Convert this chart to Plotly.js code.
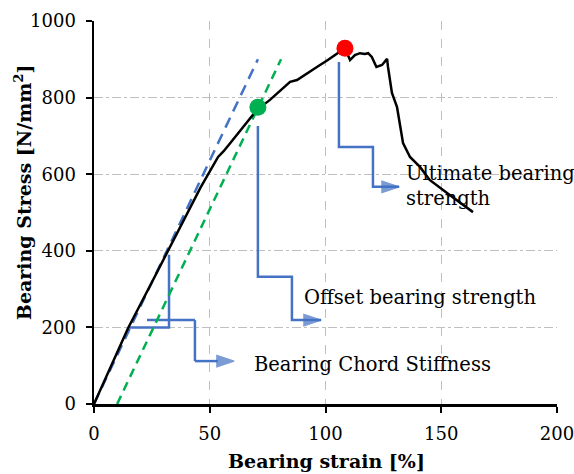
<!DOCTYPE html>
<html><head><meta charset="utf-8">
<script src="https://cdn.plot.ly/plotly-3.0.1.min.js"></script>
<style>html,body{margin:0;padding:0;background:#fff}#chart{width:574px;height:474px}</style>
</head><body><div id="chart"></div>
<script>
// Measured bearing curve
const strain = [0, 14.7, 25, 38.9, 46, 53.6, 56, 58.8, 65, 70.4, 76, 80, 84.7, 87.7, 92, 96.3, 101, 105.4, 108.4, 110.6, 112.7, 114.9, 117, 118.4, 120, 122, 124.4, 126.6, 127, 128.7, 130.9, 133.5, 136.5, 140.8, 145, 152.5, 158, 163.7];
const stress = [0, 198, 318, 480, 565, 645, 660, 681, 727, 768, 794, 815, 841, 846, 862, 880, 898, 916, 929, 898, 911, 916, 914, 916, 906, 880, 885, 901, 880, 812, 775, 681, 645, 619, 585, 551, 527, 501];
// Chord stiffness line and 10% offset line
const chordX = [0, 70.8];
const chordY = [0, 900];
const offsetX = [10, 80.8];
const offsetY = [0, 900];
// Key points
const offsetPtX = [70.8];
const offsetPtY = [775];
const ultimatePtX = [108.4];
const ultimatePtY = [929];
// Chord-stiffness triangle
const triX = [14.7, 32.4, 32.4];
const triY = [200, 200, 390];
// Callout leader paths (ending in an arrow head)
const leadChordX = [22.9, 43.6, 43.6, 60.5];
const leadChordY = [219, 219, 112, 112];
const leadOffsetX = [70.8, 70.8, 85.5, 85.5, 98.1];
const leadOffsetY = [726, 332, 332, 219, 219];
const leadUltX = [105.8, 105.8, 120.5, 120.5, 131.8];
const leadUltY = [893, 671, 671, 567, 567];
const labels = ["Bearing Chord Stiffness", "Offset bearing strength", "Ultimate bearing<br>strength"];
const labelX = [68.2, 89.8, 133.8];
const labelY = [102, 277, 569];
const xTicks = [0, 50, 100, 150, 200];
const yTicks = [0, 200, 400, 600, 800, 1000];

const blue = '#4472C4';
const serif = 'DejaVu Serif, serif';
function leader(xs, ys) {
  const sizes = xs.map((v, i) => i === xs.length - 1 ? 18 : 0);
  return {x: xs, y: ys, mode: 'lines+markers', line: {color: blue, width: 2.5},
    marker: {symbol: 'arrow', angleref: 'previous', size: sizes, color: blue, line: {width: 1.5, color: blue}},
    showlegend: false, hoverinfo: 'skip'};
}
const traces = [
  {x: triX, y: triY, mode: 'lines', line: {color: blue, width: 2.5}, showlegend: false},
  leader(leadChordX, leadChordY),
  leader(leadOffsetX, leadOffsetY),
  leader(leadUltX, leadUltY),
  {x: chordX, y: chordY, mode: 'lines', line: {color: blue, width: 2.5, dash: '11px,7px'}, showlegend: false},
  {x: offsetX, y: offsetY, mode: 'lines', line: {color: '#00B050', width: 2.5, dash: '9px,6px'}, showlegend: false},
  {x: strain, y: stress, mode: 'lines', line: {color: '#000', width: 2.5}, showlegend: false},
  {x: offsetPtX, y: offsetPtY, mode: 'markers', marker: {color: '#00B050', size: 17}, showlegend: false},
  {x: ultimatePtX, y: ultimatePtY, mode: 'markers', marker: {color: '#FF0000', size: 17}, showlegend: false}
];
const annotations = [];
labels.forEach((t, i) => annotations.push({x: labelX[i], y: labelY[i], xref: 'x', yref: 'y', text: t, showarrow: false,
  xanchor: 'left', yanchor: 'middle', align: 'left', font: {family: serif, size: 19.5, color: '#000'}}));
annotations.push({x: 0.503, y: -0.149, xref: 'paper', yref: 'paper', text: '<b>Bearing strain [%]</b>', showarrow: false,
  xanchor: 'center', yanchor: 'middle', font: {family: serif, size: 19, color: '#000'}});
annotations.push({x: -0.153, y: 0.5535, xref: 'paper', yref: 'paper', text: '<b>Bearing Stress [N/mm<sup>2</sup>]</b>', showarrow: false,
  textangle: -90, xanchor: 'center', yanchor: 'middle', font: {family: serif, size: 19, color: '#000'}});
const layout = {
  width: 574, height: 474,
  margin: {l: 94, r: 17, t: 21, b: 70},
  paper_bgcolor: '#fff', plot_bgcolor: '#fff',
  font: {family: serif, size: 18, color: '#000'},
  xaxis: {range: [0, 200], tickvals: xTicks, ticktext: xTicks.map(String), showline: true, linecolor: '#000', linewidth: 2.5,
    ticks: 'outside', ticklen: 6, tickwidth: 2, tickcolor: '#000', showgrid: true, gridcolor: '#BFBFBF', gridwidth: 1, griddash: 'dash',
    zeroline: false, tickfont: {family: serif, size: 18}, ticklabelstandoff: 6, ticklabeloverflow: 'allow'},
  yaxis: {range: [0, 1000], tickvals: yTicks, ticktext: yTicks.map(String), showline: true, linecolor: '#000', linewidth: 2.5,
    ticks: 'outside', ticklen: 6, tickwidth: 2, tickcolor: '#000', showgrid: true, gridcolor: '#BFBFBF', gridwidth: 1, griddash: 'dashdot',
    zeroline: false, tickfont: {family: serif, size: 18}, ticklabelstandoff: 6, ticklabeloverflow: 'allow'},
  annotations: annotations
};
Plotly.newPlot('chart', traces, layout, {displayModeBar: false, staticPlot: true});
</script></body></html>
